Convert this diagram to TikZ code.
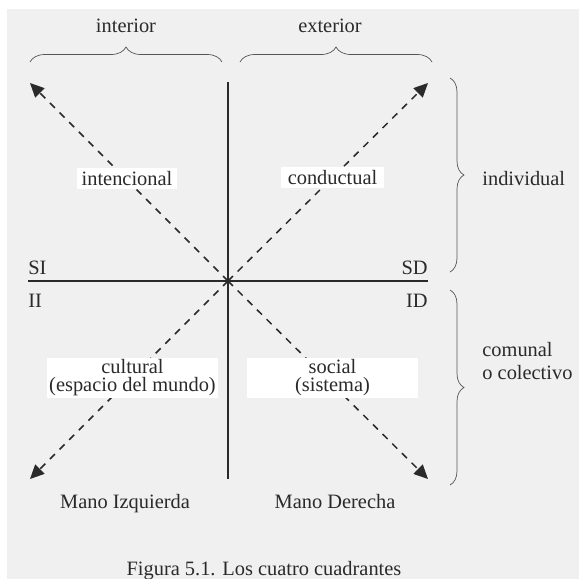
\documentclass[tikz,border=0pt]{standalone}
\usepackage{fontspec}
\setmainfont{Liberation Serif}
\usetikzlibrary{arrows.meta,decorations.pathreplacing}
\definecolor{bgc}{HTML}{F0F0F0}
\definecolor{ink}{HTML}{2A2A2A}
\definecolor{brc}{HTML}{555555}
\begin{document}
\begin{tikzpicture}[x=0.5pt,y=-0.5pt,
  txt/.style={text=ink, inner sep=0pt, font=\fontsize{10.2}{11.5}\selectfont},
  lbl/.style={fill=white, text=ink, inner sep=0pt, align=center, font=\fontsize{10.2}{9.4}\selectfont},
  axisline/.style={draw=ink, line width=0.65pt},
  diag/.style={draw=ink, line width=0.75pt, dash pattern=on 3.5pt off 3.3pt, -{Triangle[length=7pt,width=6.5pt]}},
  bracestyle/.style={draw=brc, line width=0.35pt, decorate, decoration={brace, amplitude=#1}}
]
\useasboundingbox (0,0) rectangle (579,579);
\fill[white] (0,0) rectangle (579,579);
\fill[bgc] (7,9) rectangle (579,579);

% axes
\coordinate (vt) at (228,82);
\coordinate (vb) at (228,479);
\coordinate (hl) at (28,281);
\coordinate (hr) at (428,281);
\coordinate (O) at (228,281);
\draw[axisline] (vt) -- (vb);
\draw[axisline] (hl) -- (hr);

% diagonal arrows
\coordinate (TL) at (30,83);
\coordinate (TR) at (428,83);
\coordinate (BL) at (30,479);
\coordinate (BR) at (428,479);
\draw[diag] (O) -- (TL);
\draw[diag] (O) -- (TR);
\draw[diag] (O) -- (BL);
\draw[diag] (O) -- (BR);

% braces
\coordinate (b1a) at (30,62);  \coordinate (b1b) at (222,62);
\coordinate (b2a) at (240,62); \coordinate (b2b) at (432,62);
\coordinate (b3a) at (450,78); \coordinate (b3b) at (450,272);
\coordinate (b4a) at (450,290); \coordinate (b4b) at (450,485);
\draw[bracestyle=7.5pt] (b1a) -- (b1b);
\draw[bracestyle=7.5pt] (b2a) -- (b2b);
\draw[bracestyle=7pt] (b3a) -- (b3b);
\draw[bracestyle=7pt] (b4a) -- (b4b);

% top and side labels
\node[txt, anchor=base] (interior) at (126,32) {interior};
\node[txt, anchor=base] (exterior) at (330,32) {exterior};
\node[txt, anchor=base west] (individual) at (482,185) {individual};
\node[txt, anchor=base west, align=left] (comunal) at (482,379) {comunal\\o colectivo};

% quadrant corner labels
\node[txt, anchor=base west] (SI) at (28,274) {SI};
\node[txt, anchor=base east] (SD) at (428,274) {SD};
\node[txt, anchor=base west] (II) at (28,307) {II};
\node[txt, anchor=base east] (ID) at (428,307) {ID};

% boxed labels
\node[lbl, minimum width=50pt, minimum height=10.5pt] (intencional) at (127,178.5) {intencional};
\node[lbl, minimum width=51.5pt, minimum height=10.5pt] (conductual) at (332.5,177.5) {conductual};
\node[lbl, minimum width=85.5pt, minimum height=20pt] (cultural) at (132.5,377.5) {cultural\\(espacio del mundo)};
\node[lbl, minimum width=85.5pt, minimum height=20pt] (social) at (332.5,377.5) {social\\(sistema)};

% bottom labels
\node[txt, anchor=base] (manoI) at (125,508) {Mano Izquierda};
\node[txt, anchor=base] (manoD) at (335,508) {Mano Derecha};
\node[txt, anchor=base] (caption) at (264,575) {Figura 5.1. Los cuatro cuadrantes};
\end{tikzpicture}
\end{document}
